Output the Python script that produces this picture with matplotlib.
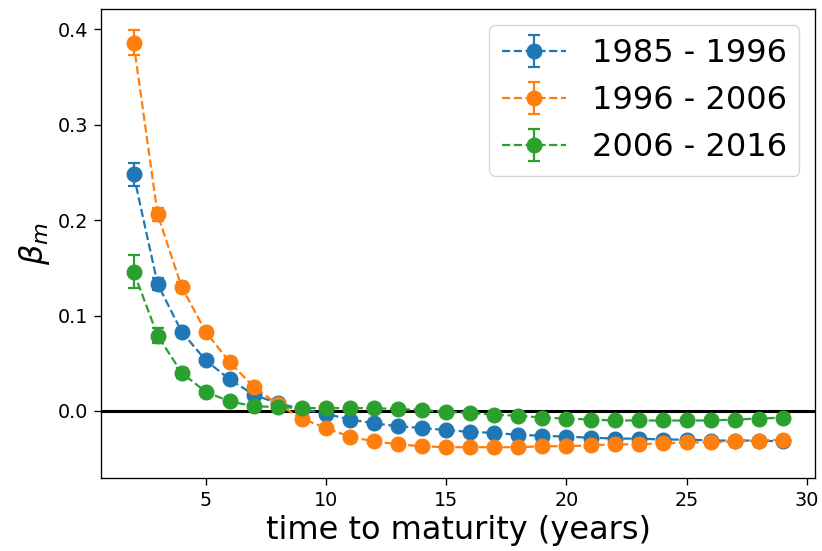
import matplotlib
matplotlib.use("Agg")
import matplotlib.pyplot as plt
import numpy as np

maturity = list(range(2, 30))
labels = ["1985 - 1996", "1996 - 2006", "2006 - 2016"]

beta_1985 = [0.248, 0.133, 0.083, 0.053, 0.033, 0.017, 0.008, 0.002, -0.003, -0.009,
             -0.013, -0.016, -0.018, -0.020, -0.022, -0.023, -0.025, -0.026, -0.027, -0.028,
             -0.029, -0.029, -0.030, -0.030, -0.031, -0.031, -0.031, -0.032]
err_1985 = [0.012, 0.006, 0.004, 0.003, 0.002, 0.002, 0.002, 0.002, 0.002, 0.002,
            0.002, 0.002, 0.002, 0.002, 0.002, 0.002, 0.002, 0.002, 0.002, 0.002,
            0.002, 0.002, 0.002, 0.002, 0.002, 0.002, 0.002, 0.002]

beta_1996 = [0.386, 0.206, 0.130, 0.083, 0.051, 0.025, 0.007, -0.008, -0.018, -0.027,
             -0.032, -0.035, -0.037, -0.038, -0.038, -0.038, -0.038, -0.037, -0.037, -0.036,
             -0.035, -0.035, -0.034, -0.033, -0.033, -0.032, -0.031, -0.030]
err_1996 = [0.013, 0.007, 0.005, 0.004, 0.003, 0.003, 0.002, 0.002, 0.002, 0.002,
            0.002, 0.002, 0.002, 0.002, 0.002, 0.002, 0.002, 0.002, 0.002, 0.002,
            0.002, 0.002, 0.002, 0.002, 0.002, 0.002, 0.002, 0.002]

beta_2006 = [0.146, 0.079, 0.040, 0.020, 0.010, 0.005, 0.004, 0.003, 0.003, 0.003,
             0.003, 0.002, 0.001, -0.001, -0.002, -0.004, -0.005, -0.007, -0.008, -0.009,
             -0.010, -0.010, -0.010, -0.010, -0.010, -0.009, -0.008, -0.007]
err_2006 = [0.017, 0.008, 0.005, 0.003, 0.002, 0.002, 0.002, 0.002, 0.002, 0.002,
            0.002, 0.002, 0.002, 0.002, 0.002, 0.002, 0.002, 0.002, 0.002, 0.002,
            0.002, 0.002, 0.002, 0.002, 0.002, 0.002, 0.002, 0.002]

fig = plt.figure(figsize=(8.22, 5.51), dpi=100)
ax = fig.add_axes([0.123, 0.133, 0.869, 0.850])

for b, e, lab in zip([beta_1985, beta_1996, beta_2006], [err_1985, err_1996, err_2006], labels):
    ax.errorbar(maturity, b, yerr=e, fmt="o--", markersize=10.5, capsize=4.5,
                capthick=1.6, elinewidth=1.6, label=lab, lw=1.6)

ax.axhline(0, color="black", lw=2.2)
ax.set_ylim(-0.070, 0.421)
ax.set_xlim(0.65, 30.35)
ax.set_xticks([5, 10, 15, 20, 25, 30])
ax.set_yticks([0.0, 0.1, 0.2, 0.3, 0.4])
for s in ax.spines.values():
    s.set_linewidth(0.95)
ax.tick_params(labelsize=13.8, length=5, width=0.95, pad=4.5)
ax.set_xlabel("time to maturity (years)", fontsize=23)
ax.set_ylabel(r"$\beta_m$", fontsize=23)
ax.legend(fontsize=23, loc="upper right")

fig.savefig("out.png", dpi=100)
